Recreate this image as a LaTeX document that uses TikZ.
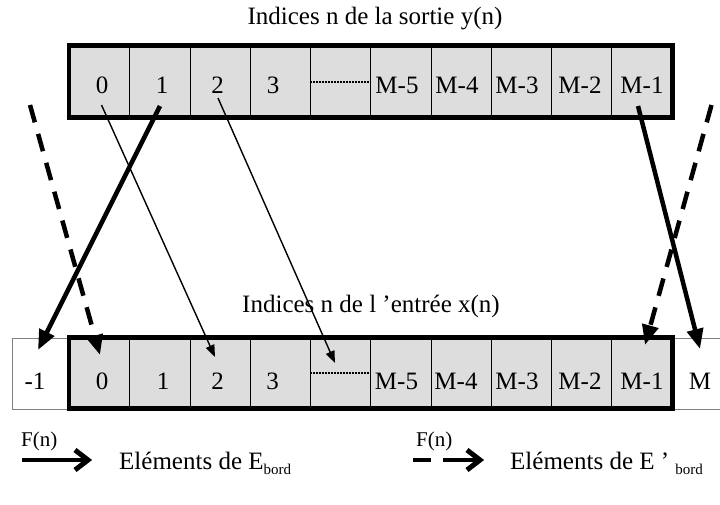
\documentclass[tikz,border=0pt]{standalone}
\usepackage{fontspec}
\setmainfont{Liberation Serif}
\usetikzlibrary{arrows.meta}
\definecolor{cellgray}{HTML}{DDDDDD}
\definecolor{edgegray}{HTML}{808080}
\newcommand{\subbord}{\raisebox{-5pt}{\fontsize{15}{18}\selectfont bord}}
\begin{document}
\begin{tikzpicture}[x=1pt,y=-1pt,
  txt/.style={font=\fontsize{25}{30}\selectfont, inner sep=0pt},
  legtxt/.style={font=\fontsize{21}{25}\selectfont, inner sep=0pt, anchor=base west},
  cell/.style={draw=black, line width=0.8pt, fill=cellgray, minimum width=60.25pt, minimum height=71pt, inner sep=0pt},
  outcell/.style={draw=edgegray, line width=0.8pt, minimum width=57.5pt, minimum height=71pt, inner sep=0pt},
  frame/.style={line width=4.5pt},
  dots/.style={line width=2pt, dash pattern=on 1.6pt off 1.4pt},
  thinarrow/.style={line width=1.4pt, -{Triangle[length=12pt,width=9pt]}},
  thickarrow/.style={line width=4.5pt, -{Triangle[length=20pt,width=16pt]}},
  dasharrow/.style={thickarrow, dash pattern=on 18pt off 12pt},
  legline/.style={line width=4.5pt},
  chevron/.style={line width=5pt, miter limit=10}]
\useasboundingbox (0,0) rectangle (720,504);

% top array
\foreach \i in {0,...,9} \node[cell] (t\i) at ({99.625+60.25*\i},81.5) {};
\draw[frame] (t0.north west) rectangle (t9.south east);
\draw[dots] ([yshift=-0.5pt]t4.west) -- ([yshift=-0.5pt]t5.west);
\node[txt] (tx0) at (102,85) {0};
\node[txt] (tx1) at (162,85) {1};
\node[txt] (tx2) at (217.5,85) {2};
\node[txt] (tx3) at (273,85) {3};
\node[txt] (tx5) at (397,85) {M-5};
\node[txt] (tx6) at (457,85) {M-4};
\node[txt] (tx7) at (517,85) {M-3};
\node[txt] (tx8) at (580,85) {M-2};
\node[txt] (tx9) at (642,85) {M-1};
\node[txt, anchor=base] (toplabel) at (375,24) {Indices n de la sortie y(n)};

% bottom array
\node[outcell] (bm1) at (40.75,373.5) {};
\draw[draw=edgegray, line width=0.8pt] (672,338) -- (725,338) (672,409) -- (725,409);
\foreach \i in {0,...,9} \node[cell, minimum height=70pt] (b\i) at ({99.625+60.25*\i},373) {};
\draw[frame] (b0.north west) rectangle (b9.south east);
\draw[dots] (b4.west) -- (b5.west);
\node[txt] (bxm1) at (35,381) {-1};
\node[txt] (bx0) at (102,381) {0};
\node[txt] (bx1) at (163,381) {1};
\node[txt] (bx2) at (217.5,381) {2};
\node[txt] (bx3) at (272.5,381) {3};
\node[txt] (bx5) at (396.5,381) {M-5};
\node[txt] (bx6) at (456,381) {M-4};
\node[txt] (bx7) at (517,381) {M-3};
\node[txt] (bx8) at (580,381) {M-2};
\node[txt] (bx9) at (642,381) {M-1};
\node[txt] (bxM) at (700,381) {M};
\node[txt, anchor=base] (botlabel) at (371,312) {Indices n de l ’entrée x(n)};

% connector end points
\coordinate (a0s) at (101.5,105); \coordinate (a0e) at (215,357);
\coordinate (a2s) at (218,98);    \coordinate (a2e) at (335,363);
\coordinate (a1s) at (160,106);   \coordinate (a1e) at (38,350);
\coordinate (d0s) at (30,105);    \coordinate (d0e) at (100,355);
\coordinate (aMs) at (638,106);   \coordinate (aMe) at (700,349);
\coordinate (dMs) at (711.5,105); \coordinate (dMe) at (645,345);

\draw[thinarrow] (a0s) -- (a0e);
\draw[thinarrow] (a2s) -- (a2e);
\draw[thickarrow] (a1s) -- (a1e);
\draw[dasharrow] (d0s) -- (d0e);
\draw[thickarrow] (aMs) -- (aMe);
\draw[dasharrow] (dMs) -- (dMe);

% legend
\node[legtxt] (f1) at (21,446) {F(n)};
\coordinate (l1s) at (22,460); \coordinate (l1e) at (88,460);
\draw[legline] (l1s) -- (l1e);
\draw[chevron] ([shift={(-13,-10)}]l1e) -- (l1e) -- ([shift={(-13,10)}]l1e);
\node[txt, anchor=base west] (e1) at (119,469) {Eléments de E\subbord};

\node[legtxt] (f2) at (416,446) {F(n)};
\coordinate (l2s) at (413,460); \coordinate (l2m) at (431,460);
\coordinate (l2n) at (443,460); \coordinate (l2e) at (480,460);
\draw[legline] (l2s) -- (l2m);
\draw[legline] (l2n) -- (l2e);
\draw[chevron] ([shift={(-13,-10)}]l2e) -- (l2e) -- ([shift={(-13,10)}]l2e);
\node[txt, anchor=base west] (e2) at (510,469) {Eléments de E ’ \subbord};
\end{tikzpicture}
\end{document}
